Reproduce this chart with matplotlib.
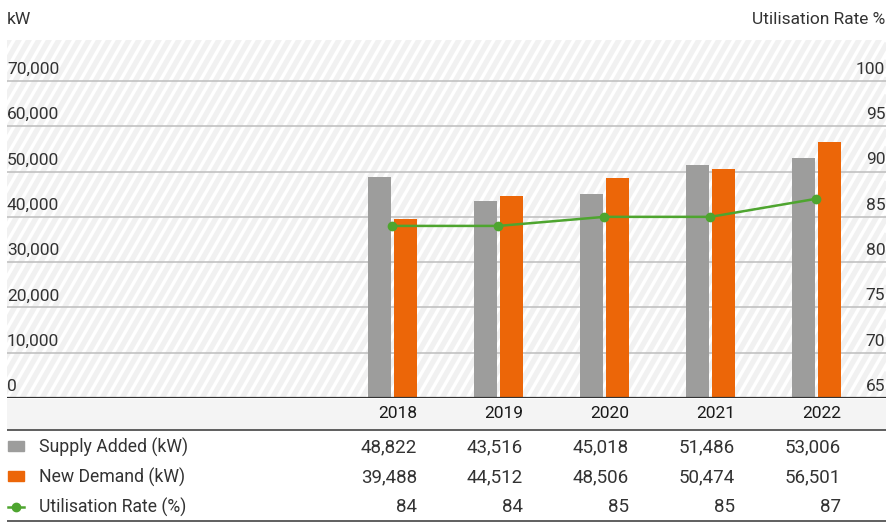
import numpy as np
import matplotlib
matplotlib.use("Agg")
import matplotlib.pyplot as plt
from matplotlib.collections import LineCollection
from matplotlib.patches import Rectangle
from matplotlib.transforms import IdentityTransform, blended_transform_factory
from matplotlib.lines import Line2D

plt.rcParams['font.family'] = ['Roboto', 'DejaVu Sans']

# data
years = ['2018', '2019', '2020', '2021', '2022']
supply = [48822, 43516, 45018, 51486, 53006]
demand = [39488, 44512, 48506, 50474, 56501]
util = [84, 84, 85, 85, 87]
kw_ticks = [0, 10000, 20000, 30000, 40000, 50000, 60000, 70000]
pct_ticks = [65, 70, 75, 80, 85, 90, 95, 100]
row_labels = ['Supply Added (kW)', 'New Demand (kW)', 'Utilisation Rate (%)']

GREY = '#9d9d9c'
ORANGE = '#ec6608'
GREEN = '#4ea52f'
TXT = '#333333'
FS = 12.5

W, H = 887, 523
fig = plt.figure(figsize=(W / 100, H / 100), dpi=100)

ax = fig.add_axes([7 / W, 125 / H, 880 / W, 358 / H])
x = np.arange(len(years))
xlim = (-(392.5 - 7) / 106, 4 + (887 - 816.5) / 106)
ax.set_xlim(*xlim)
ax.set_ylim(0, 79050)

# diagonal stripes in background
segs = []
for x0 in np.arange(-300, W + 50, 10):
    segs.append([(x0, 0), (x0 + H / np.tan(np.radians(60)), H)])
stripes = LineCollection(segs, colors='#f1f1f1', linewidths=3.8,
                         transform=IdentityTransform(), zorder=0)
ax.add_collection(stripes, autolim=False)
stripes.set_clip_path(ax.patch)

for v in kw_ticks[1:]:
    ax.axhline(v, color='#bdbdbd', lw=1.1, zorder=1)

bw = 23 / 106
off = 13 / 106
ax.bar(x - off, supply, bw, color=GREY, zorder=2)
ax.bar(x + off, demand, bw, color=ORANGE, zorder=2)

ax2 = ax.twinx()
ax2.set_ylim(65, 65 + 79050 / 2000)
ax2.plot(x, util, color=GREEN, lw=1.8, marker='o', ms=6, zorder=3)

for a in (ax, ax2):
    a.set_xticks([])
    a.set_yticks([])
    for s in a.spines.values():
        s.set_visible(False)
ax.axhline(0, color='#333333', lw=1.6, zorder=4)

# axis labels above the gridlines
tl = blended_transform_factory(ax.transAxes, ax.transData)
for v in kw_ticks:
    ax.text(0, v + 900, f'{v:,}', transform=tl, ha='left', va='bottom',
            fontsize=FS, color=TXT)
tr = blended_transform_factory(ax2.transAxes, ax2.transData)
for v in pct_ticks:
    ax2.text(0.998, v + 0.45, f'{v}', transform=tr, ha='right', va='bottom',
             fontsize=FS, color=TXT)

fig.text(7 / W, 1 - 19 / H, 'kW', ha='left', va='center', fontsize=FS, color=TXT)
fig.text(885 / W, 1 - 19 / H, 'Utilisation Rate %', ha='right', va='center',
         fontsize=FS, color=TXT)

# table below the chart
tax = fig.add_axes([7 / W, 0, 880 / W, 125 / H])
tax.set_xlim(*xlim)
tax.set_ylim(125, 0)
tax.axis('off')
tax.axhspan(0.8, 31, color='#f4f4f4', zorder=0)
tax.axhline(32, color='#444444', lw=1.2)
tax.axhline(123, color='#444444', lw=1.2)

rx = 24.5 / 106
rows_y = [49, 79, 109]
for i, yr in enumerate(years):
    tax.text(x[i] + rx, 16, yr, ha='right', va='center', fontsize=12.5,
             color='#1a1a1a')
    tax.text(x[i] + rx, rows_y[0], f'{supply[i]:,}', ha='right', va='center',
             fontsize=13.5, color=TXT)
    tax.text(x[i] + rx, rows_y[1], f'{demand[i]:,}', ha='right', va='center',
             fontsize=13.5, color=TXT)
    tax.text(x[i] + rx, rows_y[2], f'{util[i]}', ha='right', va='center',
             fontsize=13.5, color=TXT)

lt = blended_transform_factory(tax.transAxes, tax.transData)
tax.add_patch(Rectangle((1 / 880, rows_y[0] - 6), 16 / 880, 10, color=GREY,
                        transform=lt))
tax.add_patch(Rectangle((1 / 880, rows_y[1] - 6), 16 / 880, 10, color=ORANGE,
                        transform=lt))
tax.add_line(Line2D([1 / 880, 17 / 880], [rows_y[2], rows_y[2]], color=GREEN,
                    lw=1.8, transform=lt))
tax.add_line(Line2D([9 / 880], [rows_y[2]], marker='o', ms=6, color=GREEN,
                    transform=lt))
for lab, yy in zip(row_labels, rows_y):
    tax.text(32 / 880, yy, lab, transform=lt, ha='left', va='center',
             fontsize=12.7, color=TXT)

fig.savefig('out.png', dpi=100)
